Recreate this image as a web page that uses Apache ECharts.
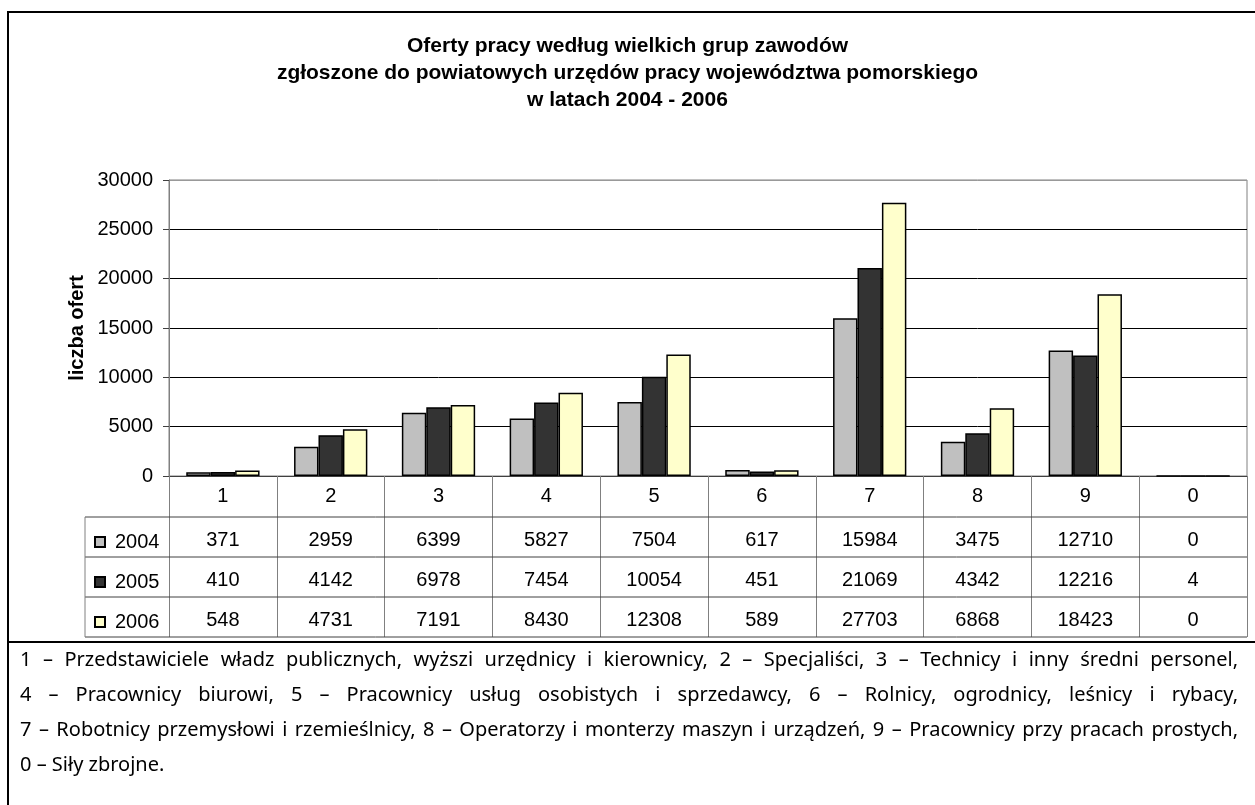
<!DOCTYPE html>
<html>
<head>
<meta charset="utf-8">
<script src="https://cdn.jsdelivr.net/npm/echarts@6/dist/echarts.min.js"></script>
<style>html,body{margin:0;padding:0;background:#fff;}#c{width:1255px;height:805px;}</style>
</head>
<body>
<div id="c"></div>
<script>
// ---- data ----
const titleLines = [
  'Oferty pracy według wielkich grup zawodów',
  'zgłoszone do powiatowych urzędów pracy województwa pomorskiego',
  'w latach 2004 - 2006'
];
const yAxisName = 'liczba ofert';
const categories = ['1', '2', '3', '4', '5', '6', '7', '8', '9', '0'];
const years = ['2004', '2005', '2006'];
const v2004 = [371, 2959, 6399, 5827, 7504, 617, 15984, 3475, 12710, 0];
const v2005 = [410, 4142, 6978, 7454, 10054, 451, 21069, 4342, 12216, 4];
const v2006 = [548, 4731, 7191, 8430, 12308, 589, 27703, 6868, 18423, 0];
const footnoteLines = [
  '1 – Przedstawiciele władz publicznych, wyższi urzędnicy i kierownicy, 2 – Specjaliści, 3 – Technicy i inny średni personel,',
  '4 – Pracownicy biurowi, 5 – Pracownicy usług osobistych i sprzedawcy, 6 – Rolnicy, ogrodnicy, leśnicy i rybacy,',
  '7 – Robotnicy przemysłowi i rzemieślnicy, 8 – Operatorzy i monterzy maszyn i urządzeń, 9 – Pracownicy przy pracach prostych,',
  '0 – Siły zbrojne.'
];
const footnoteJustify = [true, true, true, false];

// ---- layout / style ----
const F = '"Liberation Sans", Arial, Helvetica, sans-serif';
const FN = '"Noto Sans", "DejaVu Sans", sans-serif';
const colors = ['#C0C0C0', '#333333', '#FFFFCC'];
const values = [v2004, v2005, v2006];
const G = { left: 169, top: 180, right: 1247, bottom: 476 };
const headerH = 41, rowH = 40;
const legendLeft = 85;
const rowLines = [0, 1, 2, 3].map(i => G.bottom + headerH + i * rowH);

const chart = echarts.init(document.getElementById('c'), null, { renderer: 'canvas' });

// footnote words, justified; font size chosen so the longest natural line fills the width
function footnoteGraphics() {
  const x0 = 20, x1 = 1238;
  const ctx = document.createElement('canvas').getContext('2d');
  ctx.font = '18px ' + FN;
  const widest = Math.max(...footnoteLines.map(l => ctx.measureText(l).width));
  const fs = Math.min(20, Math.floor(18 * (x1 - x0) / widest * 10) / 10);
  ctx.font = fs + 'px ' + FN;
  const out = [];
  footnoteLines.forEach((line, li) => {
    const y = 660 + li * 35;
    const words = line.split(' ');
    const widths = words.map(w => ctx.measureText(w).width);
    const sum = widths.reduce((a, b) => a + b, 0);
    const space = ctx.measureText(' ').width;
    const gap = footnoteJustify[li] && words.length > 1 ? (x1 - x0 - sum) / (words.length - 1) : space;
    let x = x0;
    words.forEach((w, wi) => {
      out.push({ type: 'text', x: x, y: y, style: { text: w, font: fs + 'px ' + FN, fill: '#000', verticalAlign: 'middle', textVerticalAlign: 'middle' } });
      x += widths[wi] + gap;
    });
  });
  return out;
}

const tableLines = [];
rowLines.forEach(y => {
  tableLines.push({ type: 'line', shape: { x1: legendLeft, y1: y, x2: G.right, y2: y }, style: { stroke: '#404040', lineWidth: 1 }, z: 10 });
});
tableLines.push({ type: 'line', shape: { x1: legendLeft, y1: rowLines[0], x2: legendLeft, y2: rowLines[3] }, style: { stroke: '#808080', lineWidth: 1 }, z: 10 });

const rowAxes = years.map((yr, ri) => ({
  type: 'category',
  data: categories,
  gridIndex: 0,
  position: 'bottom',
  offset: headerH + ri * rowH,
  axisLine: { show: false },
  axisTick: { show: false },
  splitLine: { show: false },
  axisLabel: { interval: 0, margin: 13, fontSize: 20, color: '#000', fontFamily: F,
    formatter: (v, i) => String(values[ri][i]) }
}));

const option = {
  animation: false,
  backgroundColor: '#fff',
  title: {
    text: titleLines.join('\n'), left: 'center', top: 28,
    textStyle: { fontFamily: F, fontSize: 21, fontWeight: 'bold', color: '#000', lineHeight: 27 }
  },
  legend: {
    data: years, orient: 'vertical', left: 89, top: 527,
    itemWidth: 10, itemHeight: 10, itemGap: 20, icon: 'rect',
    textStyle: { fontFamily: F, fontSize: 20, color: '#000', padding: [0, 0, 0, 5] }
  },
  grid: { left: G.left, top: G.top, right: 1255 - G.right, bottom: 805 - G.bottom,
    show: true, borderColor: '#808080', borderWidth: 1, backgroundColor: 'transparent' },
  xAxis: [{
    type: 'category', data: categories, position: 'bottom',
    axisLine: { show: true, lineStyle: { color: '#404040', width: 1 } },
    axisTick: { show: true, interval: 0, length: headerH + 3 * rowH, lineStyle: { color: '#808080' } },
    axisLabel: { interval: 0, margin: 10, fontSize: 20, color: '#000', fontFamily: F },
    splitLine: { show: false }
  }].concat(rowAxes),
  yAxis: {
    type: 'value', min: 0, max: 30000, interval: 5000,
    name: yAxisName, nameLocation: 'middle', nameGap: 82, nameMoveOverlap: false,
    nameTextStyle: { fontFamily: F, fontSize: 20, fontWeight: 'bold', color: '#000' },
    axisLine: { show: true, lineStyle: { color: '#808080' } },
    axisTick: { show: true, length: 6, lineStyle: { color: '#404040' } },
    axisLabel: { fontSize: 20, color: '#000', margin: 16, fontFamily: F, formatter: v => String(v) },
    splitLine: { show: true, lineStyle: { color: ['#000', '#000', '#000', '#000', '#000', '#000', '#999'], width: 1 } }
  },
  series: years.map((yr, i) => ({
    name: yr, type: 'bar', data: values[i], xAxisIndex: 0,
    barGap: '0%', barCategoryGap: '32%',
    itemStyle: { color: colors[i], borderColor: '#000', borderWidth: 1.5 }
  })),
  graphic: [
    { type: 'rect', shape: { x: 8, y: 12, width: 1260, height: 630 }, style: { fill: 'none', stroke: '#000', lineWidth: 2 }, z: 20 },
    { type: 'line', shape: { x1: 8, y1: 642, x2: 8, y2: 812 }, style: { stroke: '#000', lineWidth: 2 }, z: 20 }
  ].concat(tableLines).concat(footnoteGraphics())
};
chart.setOption(option);
</script>
</body>
</html>
